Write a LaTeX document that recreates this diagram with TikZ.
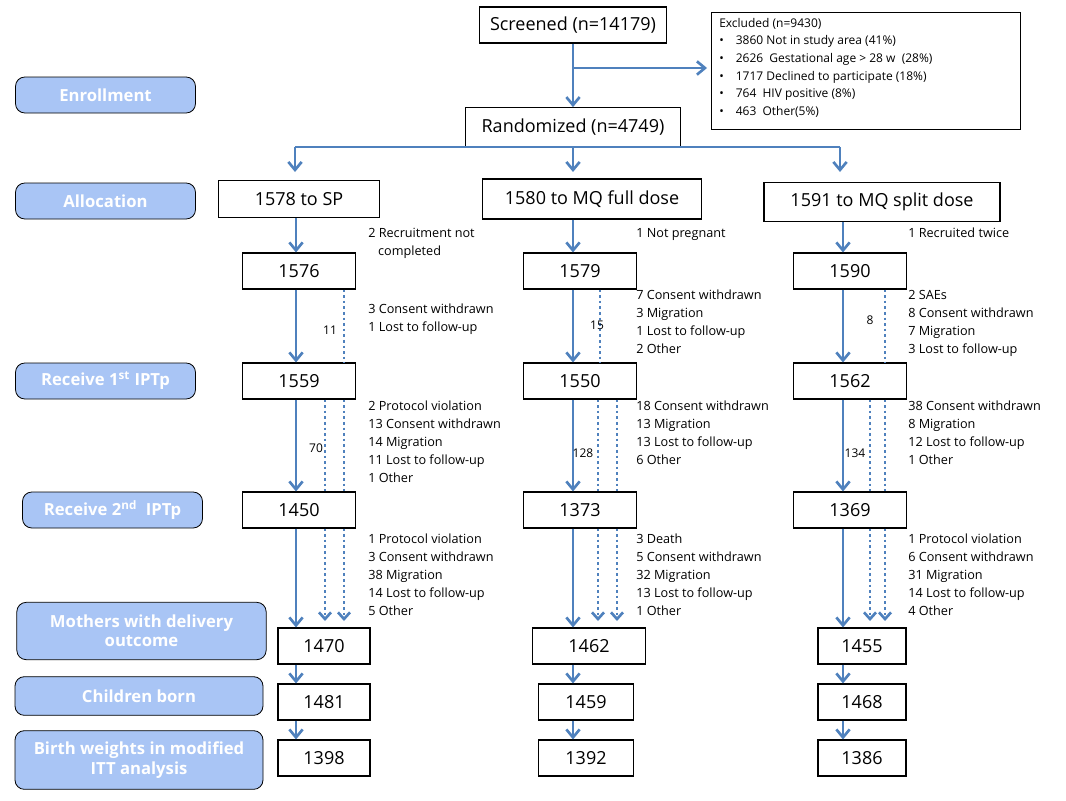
\documentclass[tikz,border=0pt]{standalone}
\usepackage{fontspec}
\setmainfont{Open Sans}
\usetikzlibrary{arrows.meta}
\definecolor{flowblue}{HTML}{4F81BD}
\definecolor{stageblue}{HTML}{A9C5F5}
\begin{document}
\begin{tikzpicture}[x=0.75pt,y=-0.75pt,
      count/.style ={draw, thick, minimum height=27pt, font=\fontsize{13.5}{15}\selectfont, inner sep=0pt},
      stage/.style ={draw, semithick, rounded corners=7pt, fill=stageblue, text=white, font=\bfseries\fontsize{12.5}{14.5}\selectfont, align=center, inner sep=0pt},
      note/.style ={anchor=north west, align=left, font=\fontsize{9.5}{13.5}\selectfont, inner sep=0pt},
      small/.style ={font=\fontsize{9}{10}\selectfont, inner sep=0pt},
      flow/.style ={draw=flowblue, line width=2pt, -{Straight Barb[length=6pt,width=10pt,line width=2pt]}},
      lost/.style ={draw=flowblue, line width=2.2pt, dash pattern=on 2pt off 2.2pt},
      lostarrow/.style ={lost, -{Straight Barb[length=5pt,width=9pt,line width=2pt]}}]
   \useasboundingbox (0,0) rectangle (1066,800);

   % top of the chart
   \node[count, minimum width=140pt] (S) at (573,25) {Screened (n=14179)};
   \node[count, minimum width=161pt, minimum height=29pt] (R) at (573,127) {Randomized (n=4749)};
   \node[draw, anchor=north west, minimum width=232pt, minimum height=88pt, inner sep=0pt] (Ex) at (711,12) {};
   \node[note, font=\fontsize{9}{13.2}\selectfont] (ExT) at (719,18) {Excluded (n=9430)\\
      \textbullet\quad 3860 Not in study area (41\%)\\
      \textbullet\quad 2626\ \ Gestational age > 28 w\ \ (28\%)\\
      \textbullet\quad 1717 Declined to participate (18\%)\\
      \textbullet\quad 764\ \ HIV positive (8\%)\\
      \textbullet\quad 463\ \ Other(5\%)};
   \coordinate (e1) at (573,68);
   \coordinate (e2) at (707,68);
   \draw[flow] (S) -- (R);
   \draw[flow] (e1) -- (e2);

   % stages
   \node[stage, minimum width=135pt, minimum height=27pt] (L1) at (105.5,95) {Enrollment};
   \node[stage, minimum width=135pt, minimum height=27pt] (L2) at (105.5,201) {Allocation};
   \node[stage, minimum width=135pt, minimum height=27pt] (L3) at (105.5,381) {Receive 1\textsuperscript{st} IPTp};
   \node[stage, minimum width=135pt, minimum height=27pt] (L4) at (112.5,510) {Receive 2\textsuperscript{nd}\ \ IPTp};
   \node[stage, minimum width=187pt, minimum height=43pt] (L5) at (141.5,631) {Mothers with delivery\\ outcome};
   \node[stage, minimum width=186pt, minimum height=29pt] (L6) at (139,696) {Children born};
   \node[stage, minimum width=186pt, minimum height=44pt] (L7) at (139,760) {Birth weights in modified\\ ITT analysis};

   % arms
   \node[count, minimum width=121pt, minimum height=28pt] (A1) at (299,199) {1578 to SP};
   \node[count, minimum width=164pt, minimum height=30pt] (A2) at (592,199) {1580 to MQ full dose};
   \node[count, minimum width=177pt, minimum height=29pt] (A3) at (882,202) {1591 to MQ split dose};
   \coordinate (b0) at (573,147);
   \coordinate (b1) at (295,147);
   \coordinate (b3) at (840,147);
   \coordinate (t1) at (295,172);
   \coordinate (t2) at (573,172);
   \coordinate (t3) at (840,172);
   \draw[draw=flowblue, line width=2pt] (R.south) -- (b0);
   \draw[draw=flowblue, line width=2pt] (b1) -- (b3);
   \draw[flow] (b1) -- (t1);
   \draw[flow] (b0) -- (t2);
   \draw[flow] (b3) -- (t3);

   \node[count, minimum width=85pt] (B1) at (299,271) {1576};
   \node[count, minimum width=85pt] (B2) at (580,271) {1579};
   \node[count, minimum width=85pt] (B3) at (850,271) {1590};
   \node[count, minimum width=85pt] (C1) at (299,381) {1559};
   \node[count, minimum width=85pt] (C2) at (580,381) {1550};
   \node[count, minimum width=85pt] (C3) at (850,381) {1562};
   \node[count, minimum width=85pt] (D1) at (299,510) {1450};
   \node[count, minimum width=85pt] (D2) at (580,510) {1373};
   \node[count, minimum width=85pt] (D3) at (850,510) {1369};
   \node[count, minimum width=69pt] (M1) at (324,646) {1470};
   \node[count, minimum width=85pt] (M2) at (589,646) {1462};
   \node[count, minimum width=66pt] (M3) at (862,646) {1455};
   \node[count, minimum width=69pt] (K1) at (324,702) {1481};
   \node[count, minimum width=71pt] (K2) at (586,702) {1459};
   \node[count, minimum width=66pt] (K3) at (862,702) {1468};
   \node[count, minimum width=69pt] (W1) at (324,758) {1398};
   \node[count, minimum width=71pt] (W2) at (586,758) {1392};
   \node[count, minimum width=66pt] (W3) at (862,758) {1386};

   % solid flow
   \draw[flow] (A1.south -| 296,0) -- (B1.north -| 296,0);
   \draw[flow] (A2.south -| 573,0) -- (B2.north -| 573,0);
   \draw[flow] (A3.south -| 843,0) -- (B3.north -| 843,0);
   \draw[flow] (B1.south -| 296,0) -- (C1.north -| 296,0);
   \draw[flow] (B2.south -| 573,0) -- (C2.north -| 573,0);
   \draw[flow] (B3.south -| 843,0) -- (C3.north -| 843,0);
   \draw[flow] (C1.south -| 296,0) -- (D1.north -| 296,0);
   \draw[flow] (C2.south -| 573,0) -- (D2.north -| 573,0);
   \draw[flow] (C3.south -| 843,0) -- (D3.north -| 843,0);
   \draw[flow] (D1.south -| 296,0) -- (M1.north -| 296,0);
   \draw[flow] (D2.south -| 573,0) -- (M2.north -| 573,0);
   \draw[flow] (D3.south -| 843,0) -- (M3.north -| 843,0);
   \draw[flow] (M1.south -| 296,0) -- (K1.north -| 296,0);
   \draw[flow] (M2.south -| 573,0) -- (K2.north -| 573,0);
   \draw[flow] (M3.south -| 843,0) -- (K3.north -| 843,0);
   \draw[flow] (K1.south -| 296,0) -- (W1.north -| 296,0);
   \draw[flow] (K2.south -| 573,0) -- (W2.north -| 573,0);
   \draw[flow] (K3.south -| 843,0) -- (W3.north -| 843,0);

   % dotted losses
   \draw[lost] (B1.south -| 344,0) -- (C1.north -| 344,0);
   \draw[lost] (B2.south -| 600,0) -- (C2.north -| 600,0);
   \draw[lost] (B3.south -| 885,0) -- (C3.north -| 885,0);
   \foreach \c/\d/\xa/\xb in {C1/D1/325/344, C2/D2/598/617, C3/D3/870/885}
      {\draw[lost] (\c.south -| \xa,0) -- (\d.north -| \xa,0);
       \draw[lost] (\c.south -| \xb,0) -- (\d.north -| \xb,0);}
   \foreach \d/\xa/\xb in {D1/325/344, D2/598/617, D3/870/885}
      {\draw[lostarrow] (\d.south -| \xa,0) -- (\xa,621);
       \draw[lostarrow] (\d.south -| \xb,0) -- (\xb,621);}

   % dropout counts
   \node[small] (n11) at (330,330) {11};
   \node[small] (n15) at (597,325) {15};
   \node[small] (n8) at (870,320) {8};
   \node[small] (n70) at (316,448) {70};
   \node[small] (n128) at (583,453) {128};
   \node[small] (n134) at (855,453) {134};

   % reasons
   \node[note] (r1) at (368,228) {2 Recruitment not\\ \ \ \ completed};
   \node[note] (r2) at (636,228) {1 Not pregnant};
   \node[note] (r3) at (908,228) {1 Recruited twice};
   \node[note] (s1) at (368,304) {3 Consent withdrawn\\ 1 Lost to follow-up};
   \node[note] (s2) at (636,290) {7 Consent withdrawn\\ 3 Migration\\ 1 Lost to follow-up\\ 2 Other};
   \node[note] (s3) at (908,290) {2 SAEs\\ 8 Consent withdrawn\\ 7 Migration\\ 3 Lost to follow-up};
   \node[note] (u1) at (368,401) {2 Protocol violation\\ 13 Consent withdrawn\\ 14 Migration\\ 11 Lost to follow-up\\ 1 Other};
   \node[note] (u2) at (636,401) {18 Consent withdrawn\\ 13 Migration\\ 13 Lost to follow-up\\ 6 Other};
   \node[note] (u3) at (908,401) {38 Consent withdrawn\\ 8 Migration\\ 12 Lost to follow-up\\ 1 Other};
   \node[note] (v1) at (368,534) {1 Protocol violation\\ 3 Consent withdrawn\\ 38 Migration\\ 14 Lost to follow-up\\ 5 Other};
   \node[note] (v2) at (636,534) {3 Death\\ 5 Consent withdrawn\\ 32 Migration\\ 13 Lost to follow-up\\ 1 Other};
   \node[note] (v3) at (908,534) {1 Protocol violation\\ 6 Consent withdrawn\\ 31 Migration\\ 14 Lost to follow-up\\ 4 Other};
\end{tikzpicture}
\end{document}
